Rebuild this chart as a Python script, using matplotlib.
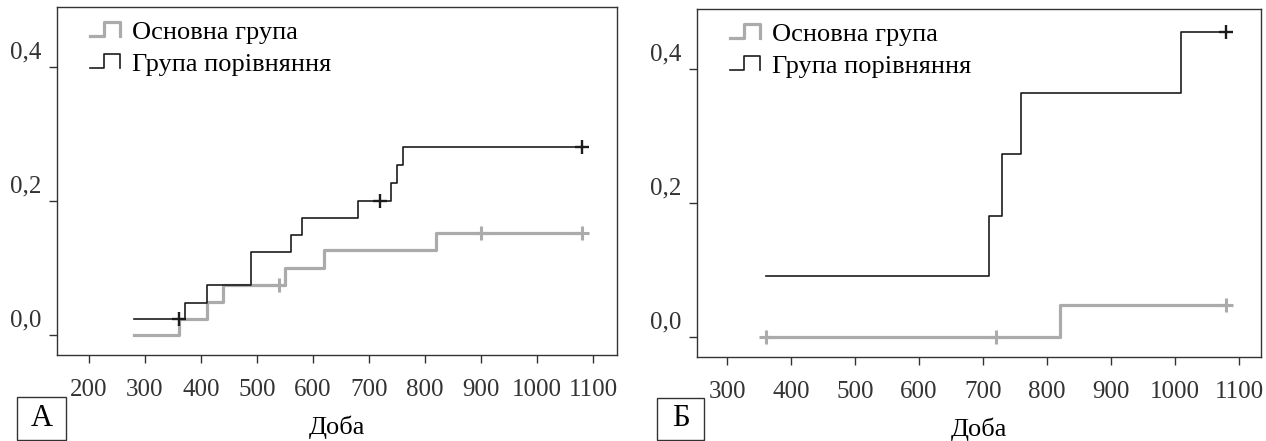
#!/usr/bin/env python3
"""Cumulative incidence, two panels (А, Б) — main vs comparison group."""

import matplotlib
matplotlib.use('Agg')
import matplotlib.pyplot as plt
from matplotlib.lines import Line2D
from matplotlib.legend_handler import HandlerBase
from matplotlib.patches import Rectangle
from matplotlib.transforms import ScaledTranslation

plt.rcParams['font.family'] = ['Liberation Serif', 'DejaVu Serif']

LABELS = ['Основна група', 'Група порівняння']
XLABEL = 'Доба'
YTICKS = [0.0, 0.2, 0.4]
YTICKLABELS = ['0,0', '0,2', '0,4']

# panel А
A_XTICKS = [200, 300, 400, 500, 600, 700, 800, 900, 1000, 1100]
A_MAIN_T = [281, 361, 410, 440, 550, 620, 820, 1080]
A_MAIN_Y = [0.0, 0.024, 0.049, 0.074, 0.100, 0.126, 0.152, 0.152]
A_MAIN_CENS_T = [540, 900, 1080]
A_MAIN_CENS_Y = [0.074, 0.152, 0.152]
A_CMP_T = [281, 371, 410, 490, 560, 580, 680, 740, 750, 760, 1080]
A_CMP_Y = [0.023, 0.048, 0.074, 0.124, 0.149, 0.174, 0.200, 0.227, 0.253,
           0.280, 0.280]
A_CMP_CENS_T = [360, 719, 1080]
A_CMP_CENS_Y = [0.023, 0.200, 0.280]

# panel Б
B_XTICKS = [300, 400, 500, 600, 700, 800, 900, 1000, 1100]
B_MAIN_T = [360, 820, 1080]
B_MAIN_Y = [0.0, 0.048, 0.048]
B_MAIN_CENS_T = [360, 720, 1080]
B_MAIN_CENS_Y = [0.0, 0.0, 0.048]
B_CMP_T = [360, 709, 730, 759, 1009, 1080]
B_CMP_Y = [0.091, 0.181, 0.273, 0.364, 0.455, 0.455]
B_CMP_CENS_T = [1080]
B_CMP_CENS_Y = [0.455]

GREY = '#ababab'
BLACK = '#1c1c1c'
TICK_FS = 18
TEXT_FS = 19


class StepHandler(HandlerBase):
    def create_artists(self, legend, orig_handle, xdescent, ydescent,
                       width, height, fontsize, trans):
        x0, y0 = -xdescent, -ydescent
        xs = [x0, x0 + 0.45 * width, x0 + 0.45 * width, x0 + width, x0 + width]
        ys = [y0, y0, y0 + height, y0 + height, y0]
        ln = Line2D(xs, ys, color=orig_handle.get_color(),
                    lw=orig_handle.get_linewidth(), transform=trans)
        return [ln]


def panel(fig, rect, xticks, xlim, main, cmp_, letter, letter_box):
    ax = fig.add_axes(rect)
    t, y, ct, cy = main
    g, = ax.step(t, y, where='post', color=GREY, lw=2.3)
    ax.plot(ct, cy, ls='none', marker='+', ms=10, mew=2.2, color=GREY)
    t, y, ct, cy = cmp_
    b, = ax.step(t, y, where='post', color=BLACK, lw=1.2)
    ax.plot(ct, cy, ls='none', marker='+', ms=10, mew=1.7, color=BLACK)

    ax.set_xlim(*xlim)
    ax.set_ylim(-0.03, 0.489)
    ax.set_xticks(xticks)
    ax.set_yticks(YTICKS)
    ax.set_yticklabels(YTICKLABELS)
    ax.tick_params(axis='x', length=6, width=1, pad=11, labelsize=TICK_FS,
                   colors='#333333')
    ax.tick_params(axis='y', length=6, width=1, pad=5, labelsize=TICK_FS,
                   colors='#333333')
    shift = ScaledTranslation(0, 17 / 100, fig.dpi_scale_trans)
    for lab in ax.get_yticklabels():
        lab.set_transform(lab.get_transform() + shift)
    for s in ax.spines.values():
        s.set_color('#333333')
        s.set_linewidth(1.0)
    ax.set_xlabel(XLABEL, fontsize=TEXT_FS, labelpad=11)

    ax.legend([g, b], LABELS, handler_map={Line2D: StepHandler()},
              loc='upper left', bbox_to_anchor=(0.059, 0.958),
              frameon=False, fontsize=TEXT_FS, handlelength=1.14,
              handleheight=0.42, handletextpad=0.45, labelspacing=0.38,
              borderpad=0, borderaxespad=0)

    x0, y0, w, h = letter_box
    fig.patches.append(Rectangle((x0, y0), w, h, transform=fig.transFigure,
                                 fill=False, ec='#333333', lw=1.0))
    fig.text(x0 + w / 2, y0 + h / 2, letter, ha='center', va='center',
             fontsize=22)
    return ax


def plot():
    fig = plt.figure(figsize=(12.66, 4.41), dpi=100)
    panel(fig, [0.0450, 0.195, 0.4424, 0.789], A_XTICKS, (143, 1143),
          (A_MAIN_T, A_MAIN_Y, A_MAIN_CENS_T, A_MAIN_CENS_Y),
          (A_CMP_T, A_CMP_Y, A_CMP_CENS_T, A_CMP_CENS_Y),
          'А', (0.0134, 0.0023, 0.0387, 0.0975))
    panel(fig, [0.5506, 0.1905, 0.4455, 0.789], B_XTICKS, (253, 1134.5),
          (B_MAIN_T, B_MAIN_Y, B_MAIN_CENS_T, B_MAIN_CENS_Y),
          (B_CMP_T, B_CMP_Y, B_CMP_CENS_T, B_CMP_CENS_Y),
          'Б', (0.519, 0.0023, 0.0371, 0.0952))
    fig.savefig('out.png', dpi=100)


if __name__ == '__main__':
    plot()
